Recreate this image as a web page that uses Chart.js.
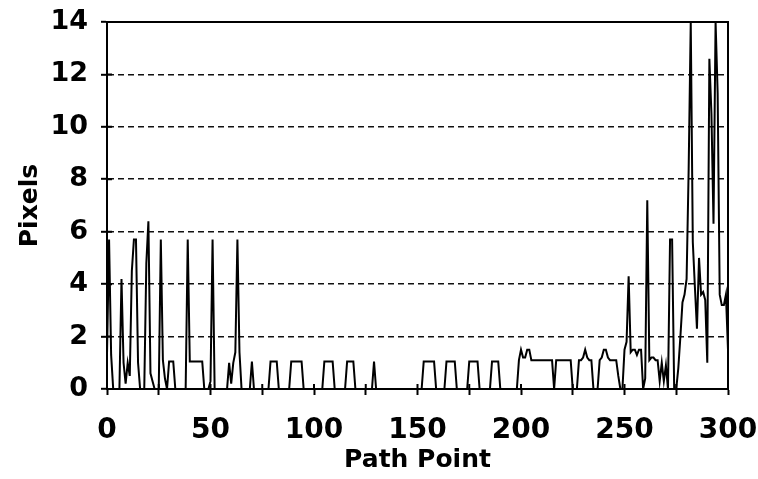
<!DOCTYPE html>
<html>
<head>
<meta charset="utf-8">
<script src="https://cdn.jsdelivr.net/npm/chart.js@4/dist/chart.umd.min.js"></script>
<style>
  html, body { margin: 0; padding: 0; background: #fff; }
  #wrap { width: 758px; height: 479px; }
</style>
</head>
<body>
<div id="wrap"><canvas id="c" width="758" height="479"></canvas></div>
<script>
// Displacement (pixels) measured at each path point 0..300
const pixels = [
  1.3, 5.7, 1.3, 0, 0, 0, 0, 4.2, 1.0, 0.2,          // 0-9
  1.0, 0.5, 4.5, 5.7, 5.7, 1.0, 0, 0, 0, 4.8,        // 10-19
  6.4, 0.6, 0.3, 0, 0, 0, 5.7, 1.1, 0.4, 0,          // 20-29
  1.05, 1.05, 1.05, 0, 0, 0, 0, 0, 0, 5.7,           // 30-39
  1.05, 1.05, 1.05, 1.05, 1.05, 1.05, 1.05, 0, 0, 0, // 40-49
  0.3, 5.7, 0, 0, 0, 0, 0, 0, 0, 1.0,                // 50-59
  0.2, 1.0, 1.4, 5.7, 1.4, 0, 0, 0, 0, 0,            // 60-69
  1.05, 0, 0, 0, 0, 0, 0, 0, 0, 1.05,                // 70-79
  1.05, 1.05, 1.05, 0, 0, 0, 0, 0, 0, 1.05,          // 80-89
  1.05, 1.05, 1.05, 1.05, 1.05, 0, 0, 0, 0, 0,       // 90-99
  0, 0, 0, 0, 0, 1.05, 1.05, 1.05, 1.05, 1.05,       // 100-109
  0, 0, 0, 0, 0, 0, 1.05, 1.05, 1.05, 1.05,          // 110-119
  0, 0, 0, 0, 0, 0, 0, 0, 0, 1.05,                   // 120-129
  0, 0, 0, 0, 0, 0, 0, 0, 0, 0,                      // 130-139
  0, 0, 0, 0, 0, 0, 0, 0, 0, 0,                      // 140-149
  0, 0, 0, 1.05, 1.05, 1.05, 1.05, 1.05, 1.05, 0,    // 150-159
  0, 0, 0, 0, 1.05, 1.05, 1.05, 1.05, 1.05, 0,       // 160-169
  0, 0, 0, 0, 0, 1.05, 1.05, 1.05, 1.05, 1.05,       // 170-179
  0, 0, 0, 0, 0, 0, 1.05, 1.05, 1.05, 1.05,          // 180-189
  0, 0, 0, 0, 0, 0, 0, 0, 0, 1.1,                    // 190-199
  1.5, 1.2, 1.2, 1.5, 1.5, 1.1, 1.1, 1.1, 1.1, 1.1,  // 200-209
  1.1, 1.1, 1.1, 1.1, 1.1, 1.1, 0, 1.1, 1.1, 1.1,    // 210-219
  1.1, 1.1, 1.1, 1.1, 1.1, 0, 0, 0, 1.1, 1.1,        // 220-229
  1.2, 1.5, 1.2, 1.1, 1.1, 0, 0, 0, 1.1, 1.2,        // 230-239
  1.5, 1.5, 1.2, 1.1, 1.1, 1.1, 1.1, 0.5, 0, 0,      // 240-249
  1.5, 1.8, 4.3, 1.4, 1.5, 1.5, 1.3, 1.5, 1.5, 0,    // 250-259
  0.4, 7.2, 1.1, 1.2, 1.2, 1.1, 1.1, 0.3, 1.0, 0.3,  // 260-269
  0.9, 0, 5.7, 5.7, 0, 0, 0.8, 2.0, 3.3, 3.6,        // 270-279
  4.2, 8.4, 14, 5.6, 3.9, 2.3, 5.0, 3.6, 3.7, 3.4,   // 280-289
  1.0, 12.6, 10.5, 6.3, 14, 11.3, 3.6, 3.2, 3.2, 3.6,// 290-299
  1.5                                                // 300
];

const xTitle = 'Path Point';
const yTitle = 'Pixels';
const xRange = [0, 300];
const yRange = [0, 14];

const points = pixels.map((v, i) => ({ x: i, y: v }));

const xTickFont = { family: 'DejaVu Sans, Arial, sans-serif', size: 28, weight: 'bold' };
const yTickFont = { family: 'DejaVu Sans, Arial, sans-serif', size: 27, weight: 'bold' };
const titleFont = { family: 'DejaVu Sans, Arial, sans-serif', size: 25, weight: 'bold' };

// Solid frame round the plot plus short inner tick marks on both axes
const framePlugin = {
  id: 'frame',
  afterDraw(chart) {
    const { ctx, chartArea: a, scales } = chart;
    ctx.save();
    ctx.setLineDash([]);
    ctx.strokeStyle = '#000';
    ctx.lineWidth = 2;
    ctx.strokeRect(a.left, a.top, a.right - a.left, a.bottom - a.top);
    ctx.beginPath();
    scales.x.ticks.forEach(t => {
      const px = scales.x.getPixelForValue(t.value);
      ctx.moveTo(px, a.bottom);
      ctx.lineTo(px, a.bottom - 5);
    });
    scales.y.ticks.forEach(t => {
      const py = scales.y.getPixelForValue(t.value);
      ctx.moveTo(a.left, py);
      ctx.lineTo(a.left + 5, py);
    });
    ctx.stroke();
    ctx.restore();
  }
};

new Chart(document.getElementById('c'), {
  type: 'line',
  data: {
    datasets: [{
      data: points,
      borderColor: '#000',
      borderWidth: 2,
      pointRadius: 0,
      tension: 0,
      fill: false
    }]
  },
  options: {
    responsive: false,
    animation: false,
    events: [],
    layout: { padding: { top: 22, right: 30, left: 0, bottom: 0 } },
    plugins: { legend: { display: false }, tooltip: { enabled: false } },
    scales: {
      x: {
        type: 'linear',
        min: xRange[0],
        max: xRange[1],
        afterFit(s) { s.height = 90; s.paddingLeft = 0; s.paddingRight = 0; },
        ticks: {
          stepSize: 25,
          autoSkip: false,
          maxRotation: 0,
          color: '#000',
          font: xTickFont,
          padding: 19,
          callback: v => (v % 50 === 0 ? String(v) : '')
        },
        grid: { drawOnChartArea: false, tickLength: 6, tickColor: '#000', tickWidth: 2 },
        border: { color: '#000', width: 2 },
        title: { display: true, text: xTitle, color: '#000', font: titleFont, padding: { top: 0, bottom: 4 } }
      },
      y: {
        min: yRange[0],
        max: yRange[1],
        afterFit(s) { s.width = 107; s.paddingTop = 0; s.paddingBottom = 0; },
        ticks: { stepSize: 2, color: '#000', font: yTickFont, padding: 13 },
        grid: {
          color: c => (c.tick && (c.tick.value === 0 || c.tick.value === 14)) ? 'rgba(0,0,0,0)' : '#111',
          lineWidth: 1.6,
          tickLength: 6,
          tickColor: '#000',
          tickWidth: 2,
          tickBorderDash: []
        },
        border: { color: '#000', width: 2, dash: [6, 4] },
        title: { display: true, text: yTitle, color: '#000', font: titleFont, padding: { top: 15, bottom: 0 } }
      }
    }
  },
  plugins: [framePlugin]
});
</script>
</body>
</html>
